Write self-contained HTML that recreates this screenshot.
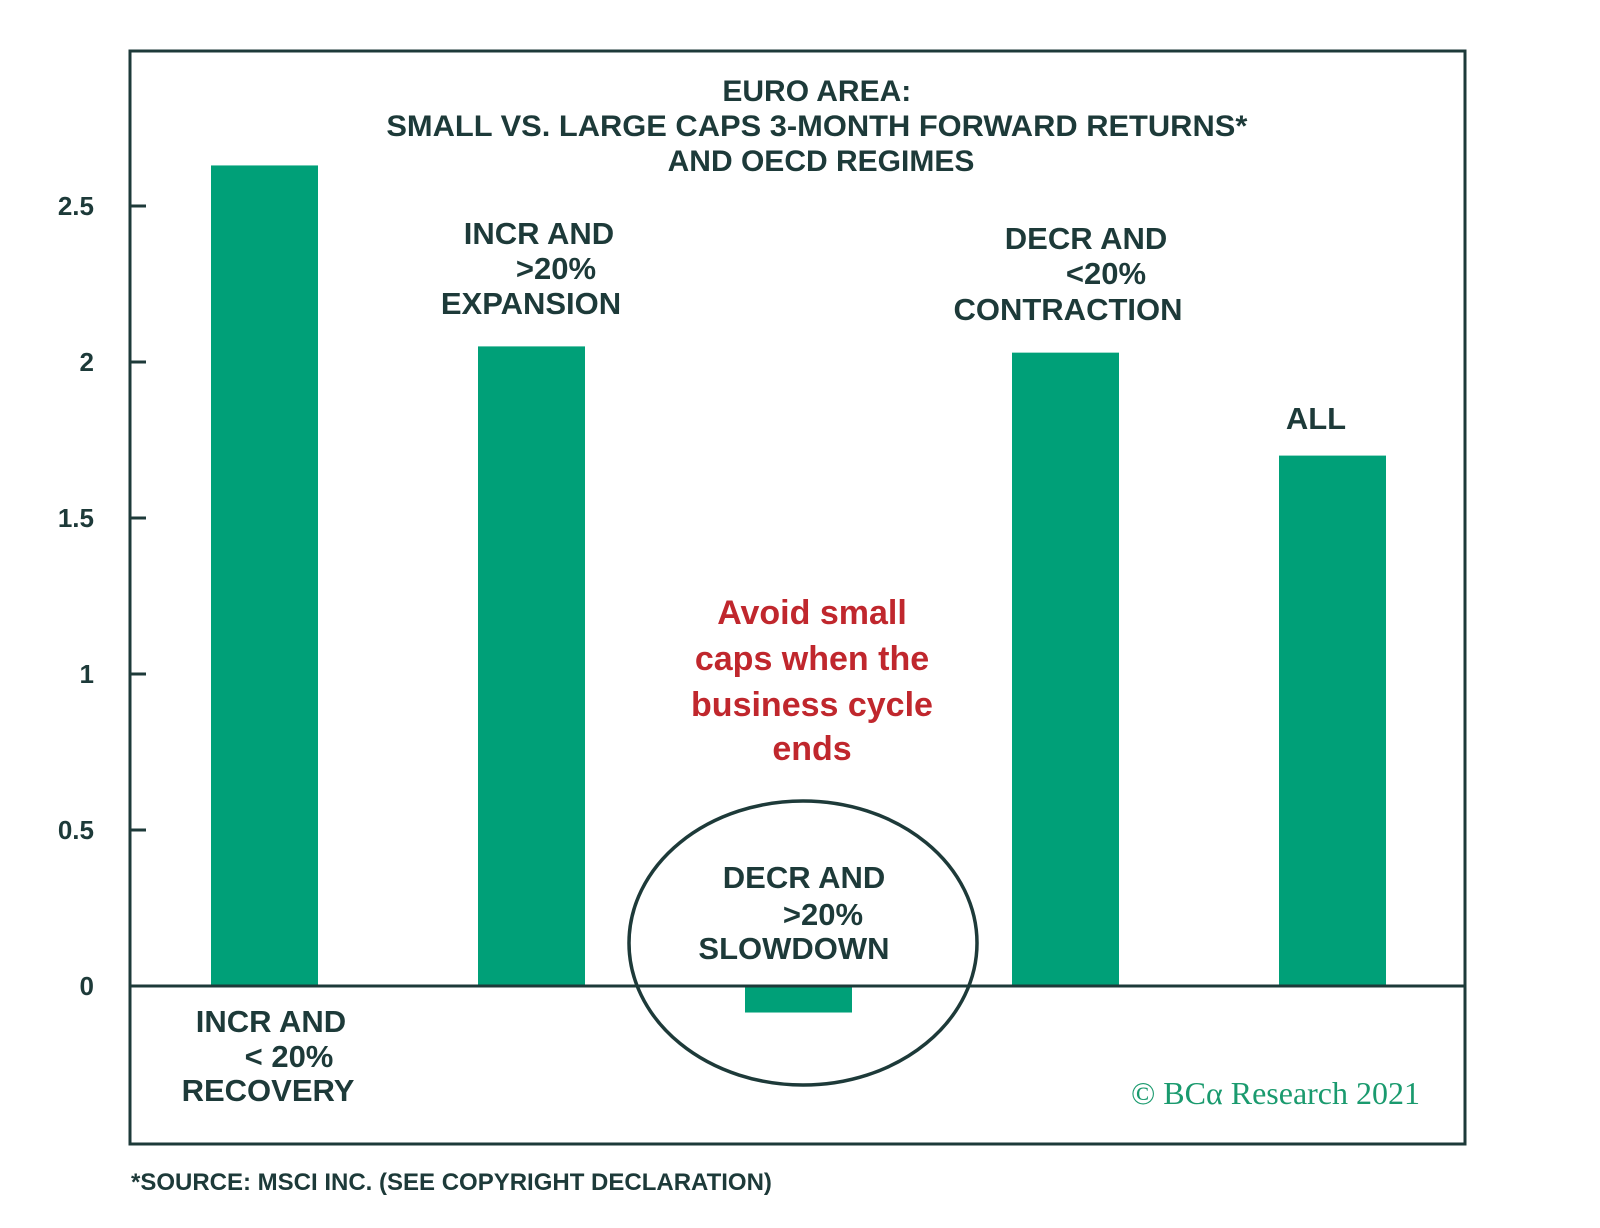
<!DOCTYPE html>
<html><head><meta charset="utf-8"><style>
html,body{margin:0;padding:0;background:#fff;}
svg{display:block;}
.t{font-family:"Liberation Sans",sans-serif;font-weight:bold;fill:#1d3a39;}
</style></head><body>
<svg id="chart" width="1600" height="1228" viewBox="0 0 1600 1228">
<rect x="130" y="51" width="1335" height="1093" fill="none" stroke="#1d3a39" stroke-width="3"/>
<g id="ticks"></g>
<g id="bars"></g>
<line id="zero" x1="130" x2="1465" stroke="#1d3a39" stroke-width="3"/>
<text class="t" text-anchor="middle" font-size="30">
<tspan x="821" y="101">EURO AREA:</tspan>
<tspan x="821" y="136" textLength="861" lengthAdjust="spacingAndGlyphs">SMALL VS. LARGE CAPS 3-MONTH FORWARD RETURNS*</tspan>
<tspan x="821" y="171">AND OECD REGIMES</tspan>
</text>
<g class="t" text-anchor="middle" font-size="31">
<text><tspan x="271" y="1032">INCR AND</tspan><tspan x="289" y="1067">&lt; 20%</tspan><tspan x="268" y="1101">RECOVERY</tspan></text>
<text><tspan x="539" y="244">INCR AND</tspan><tspan x="556" y="279">&gt;20%</tspan><tspan x="531" y="314">EXPANSION</tspan></text>
<text><tspan x="1086" y="249">DECR AND</tspan><tspan x="1106" y="284">&lt;20%</tspan><tspan x="1068" y="320">CONTRACTION</tspan></text>
<text x="1316" y="429">ALL</text>
<text><tspan x="804" y="888">DECR AND</tspan><tspan x="823" y="925">&gt;20%</tspan><tspan x="794" y="959">SLOWDOWN</tspan></text>
</g>
<ellipse cx="803" cy="943" rx="174" ry="142" fill="none" stroke="#1d3a39" stroke-width="3.5"/>
<text text-anchor="middle" font-size="34" font-weight="bold" fill="#c0272d" font-family="Liberation Sans,sans-serif">
<tspan x="812" y="624">Avoid small</tspan><tspan x="812" y="670">caps when the</tspan><tspan x="812" y="716">business cycle</tspan><tspan x="812" y="760">ends</tspan>
</text>
<text x="1420" y="1104" text-anchor="end" font-size="32" fill="#1a9a6e" font-family="Liberation Serif,serif">© BCα Research 2021</text>
<text class="t" x="131" y="1190" font-size="24">*SOURCE: MSCI INC. (SEE COPYRIGHT DECLARATION)</text>
</svg>
<script>
const categories = ["Recovery","Expansion","Slowdown","Contraction","All"];
const values = [2.63, 2.05, -0.085, 2.03, 1.70];
const tickValues = [0, 0.5, 1, 1.5, 2, 2.5];
const tickLabels = ["0","0.5","1","1.5","2","2.5"];
const NS = "http://www.w3.org/2000/svg";
const y = v => 986 - v * 312;
const x = i => 211 + i * 267;
const bw = 107;
document.getElementById('zero').setAttribute('y1', y(0));
document.getElementById('zero').setAttribute('y2', y(0));
const bg = document.getElementById('bars');
values.forEach((v, i) => {
  const r = document.createElementNS(NS, 'rect');
  r.setAttribute('x', x(i));
  r.setAttribute('width', bw);
  r.setAttribute('y', Math.min(y(v), y(0)));
  r.setAttribute('height', Math.abs(y(v) - y(0)));
  r.setAttribute('fill', '#00a078');
  
  
  bg.appendChild(r);
});
const tg = document.getElementById('ticks');
tickValues.forEach((t, i) => {
  const l = document.createElementNS(NS, 'line');
  l.setAttribute('x1', 130); l.setAttribute('x2', 146);
  l.setAttribute('y1', y(t)); l.setAttribute('y2', y(t));
  l.setAttribute('stroke', '#1d3a39'); l.setAttribute('stroke-width', 3);
  
  
  tg.appendChild(l);
  const tx = document.createElementNS(NS, 'text');
  tx.setAttribute('x', 94); tx.setAttribute('y', y(t) + 9);
  tx.setAttribute('text-anchor', 'end');
  tx.setAttribute('class', 't');
  tx.setAttribute('font-size', '26');
  tx.textContent = tickLabels[i];
  
  
  tg.appendChild(tx);
});
</script>
</body></html>
